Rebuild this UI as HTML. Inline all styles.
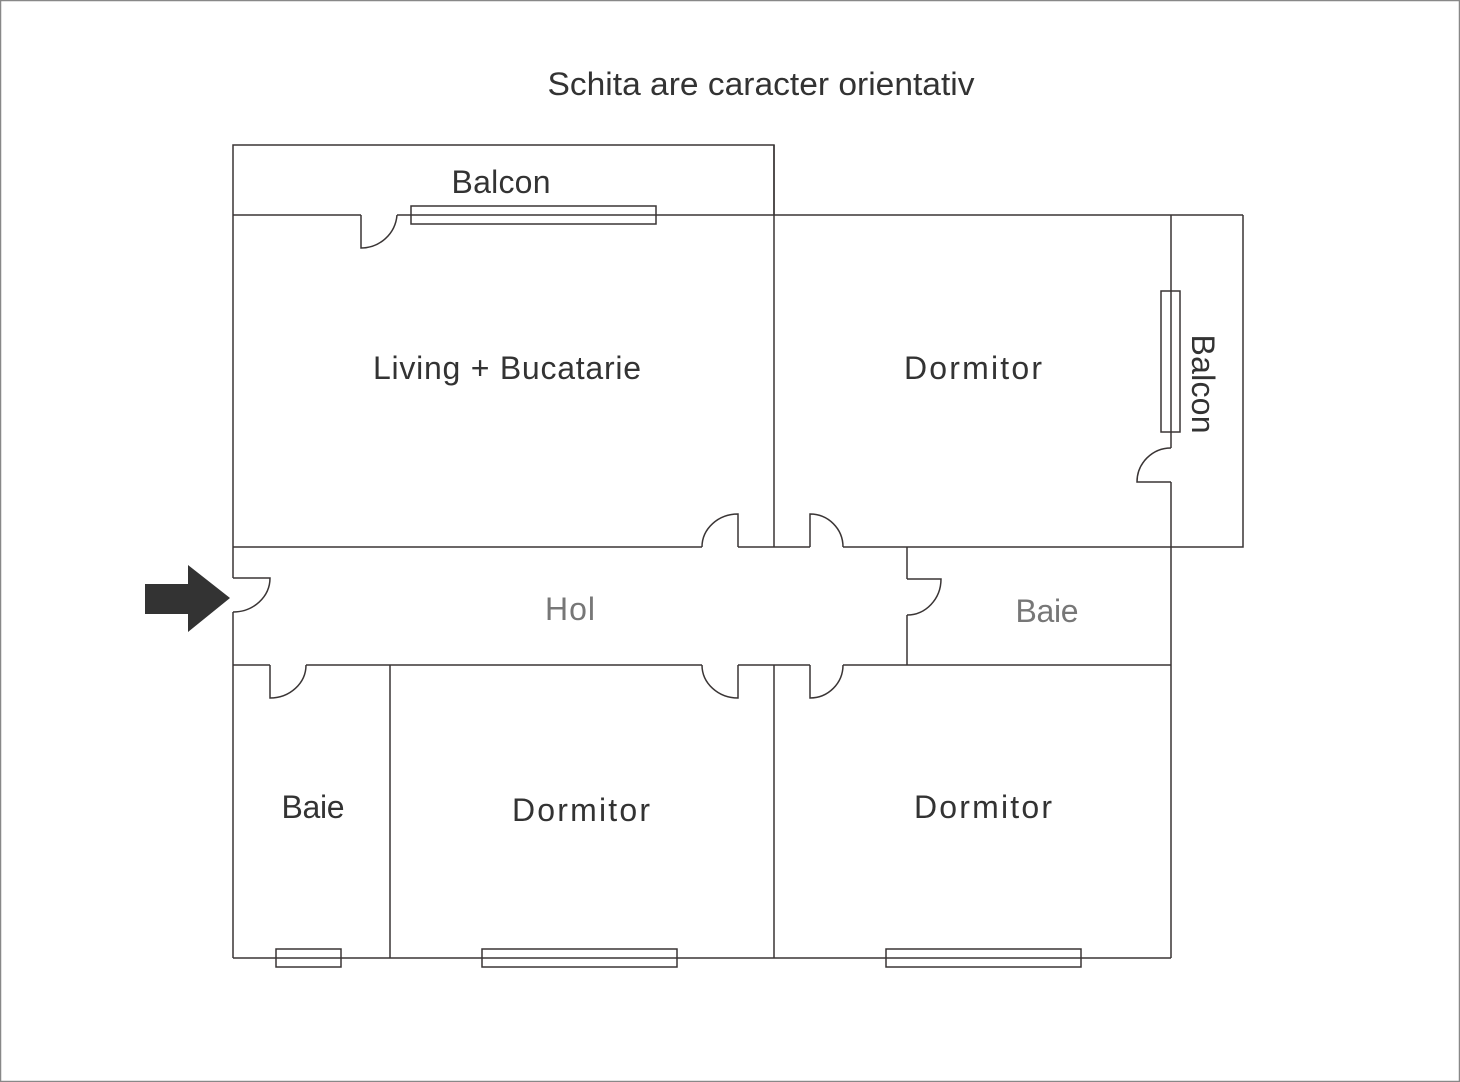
<!DOCTYPE html>
<html><head><meta charset="utf-8"><style>
html,body{margin:0;padding:0;background:#fff}
svg{display:block}
text{font-family:"Liberation Sans",sans-serif}
</style></head><body>
<svg width="1460" height="1082" viewBox="0 0 1460 1082" xmlns="http://www.w3.org/2000/svg">
<rect x="0.5" y="0.5" width="1459" height="1081" fill="#fff" stroke="#888" stroke-width="1.5"/>
<text x="761" y="95" font-size="32" text-anchor="middle" fill="#333" textLength="427" lengthAdjust="spacingAndGlyphs">Schita are caracter orientativ</text>
<g fill="none" stroke="#3a3535" stroke-width="1.5">
<path d="M233 215 V145 H774 V215"/>
<path d="M233 215 H361 M397 215 H1243"/>
<path d="M1243 215 V547 H1171"/>
<path d="M1171 215 V448 M1171 482 V958"/>
<path d="M233 215 V578 M233 612 V958"/>
<path d="M233 958 H1171"/>
<path d="M774 145 V547 M774 665 V958"/>
<path d="M233 547 H702 M738 547 H810 M843 547 H1171"/>
<path d="M233 665 H270 M306 665 H702 M738 665 H810 M843 665 H1171"/>
<path d="M390 665 V958"/>
<path d="M907 547 V579 M907 615 V665"/>
<path d="M361 215 V248 A36 36 0 0 0 397 215"/>
<path d="M1171 482 H1137 A34 34 0 0 1 1171 448"/>
<path d="M738 547 V514 A36 33 0 0 0 702 547"/>
<path d="M810 547 V514 A33 33 0 0 1 843 547"/>
<path d="M738 665 V698 A36 33 0 0 1 702 665"/>
<path d="M810 665 V698 A33 33 0 0 0 843 665"/>
<path d="M907 579 H941 A34 36 0 0 1 907 615"/>
<path d="M233 578 H270 A37 34 0 0 1 233 612"/>
<path d="M270 665 V698 A36 33 0 0 0 306 665"/>
<rect x="411" y="206" width="245" height="18"/>
<rect x="1161" y="291" width="19" height="141"/>
<rect x="276" y="949" width="65" height="18"/>
<rect x="482" y="949" width="195" height="18"/>
<rect x="886" y="949" width="195" height="18"/>
</g>
<path d="M145 584 H188 V565 L230 598 L188 632 V614 H145 Z" fill="#333"/>
<g font-size="32" fill="#333" text-anchor="middle" lengthAdjust="spacingAndGlyphs">
<text x="501" y="193" textLength="99">Balcon</text>
<text x="507" y="379" textLength="268">Living + Bucatarie</text>
<text x="973" y="379" textLength="138">Dormitor</text>
<text x="570" y="620" fill="#777" textLength="50">Hol</text>
<text x="1047" y="622" fill="#777" textLength="63">Baie</text>
<text x="313" y="818" textLength="63">Baie</text>
<text x="581" y="821" textLength="138">Dormitor</text>
<text x="983" y="818" textLength="138">Dormitor</text>
<text transform="translate(1192 384) rotate(90)" textLength="99">Balcon</text>
</g>
</svg>
</body></html>
